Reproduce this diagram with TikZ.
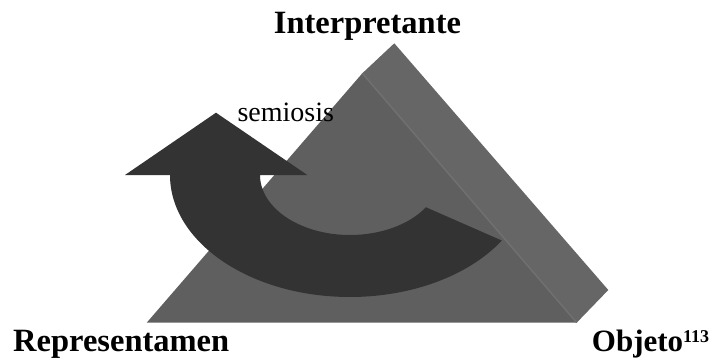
\documentclass[tikz,border=0pt]{standalone}
\usepackage{fontspec}
\usetikzlibrary{calc}
\setmainfont{Liberation Serif}
\definecolor{frontgray}{HTML}{5F5F5F}
\definecolor{sidegray}{HTML}{666666}
\definecolor{edgegray}{HTML}{707070}
\definecolor{arrowgray}{HTML}{333333}
\begin{document}
\begin{tikzpicture}[x=1pt,y=1pt,
  bigtext/.style={inner sep=0pt,font=\fontsize{32.5}{32.5}\selectfont\bfseries},
  objtext/.style={inner sep=0pt,font=\fontsize{31}{31}\selectfont\bfseries},
  smalltext/.style={inner sep=0pt,font=\fontsize{28}{28}\selectfont}]
\useasboundingbox (0,0) rectangle (713,360);
% side face of the prism
\fill[sidegray] (362.3,286.7) -- (394.3,316.7) -- (608.3,70) -- (576.7,37.3) -- cycle;
% front face
\fill[frontgray] (146.7,37.3) -- (362.3,286.7) -- (576.7,37.3) -- cycle;
\draw[edgegray,line width=1.5pt] (362.3,286.7) -- (576.7,37.3);
% semiosis arrow
\fill[arrowgray] (170,185) arc[start angle=180,end angle=327.5,x radius=180,y radius=122]
  -- ($(350,185)+(327.5:90 and 60)$) arc[start angle=327.5,end angle=180,x radius=90,y radius=60]
  -- (262,185) -- (307.3,185) -- (216,247.3) -- (125,185) -- cycle;
% labels
\node[bigtext,anchor=base] (interp) at (367.5,326.7) {Interpretante};
\node[bigtext,anchor=base west] (repr) at (13,8.3) {Representamen};
\node[objtext,anchor=base west] (obj) at (591.7,8.3) {Objeto\textsuperscript{\fontsize{18}{18}\selectfont 113}};
\node[smalltext,anchor=base west] (sem) at (237.3,238.3) {semiosis};
\end{tikzpicture}
\end{document}
